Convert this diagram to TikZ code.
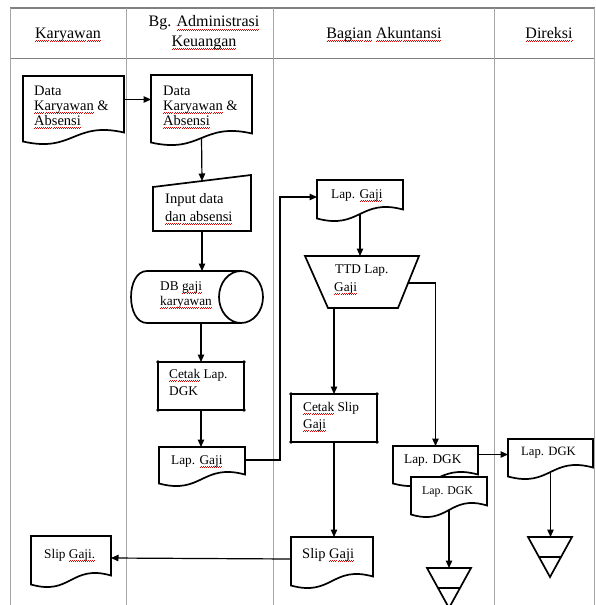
\documentclass[tikz,border=0pt]{standalone}
\usepackage{fontspec}
\setmainfont{Liberation Serif}
\usetikzlibrary{arrows.meta,fit,calc}
\newcommand\wu[1]{\setbox0\hbox{#1}\leavevmode\rlap{\raisebox{-3pt}{\hbox to \wd0{\color{red!85!black}\xleaders\hbox{\rule[-0.3pt]{1pt}{0.6pt}\rule[0.7pt]{1pt}{0.6pt}}\hfil}}}\box0\relax}
\tikzset{
  tbl/.style={draw=gray!70, line width=1pt},
  hdr/.style={draw=gray, line width=1.1pt},
  shp/.style={draw=black, line width=1.7pt, line join=miter},
  arr/.style={draw=black, line width=1.2pt, -{Triangle[length=7.5pt,width=6.5pt]}},
  ln/.style={draw=black, line width=1.1pt},
  box/.style={inner sep=0pt, outer sep=0pt, draw=none},
  lbl/.style={inner sep=0pt, anchor=base west, font=\fontsize{13.3}{15}\selectfont},
  big/.style={font=\fontsize{14.5}{16}\selectfont},
  sml/.style={font=\fontsize{11.8}{14}\selectfont},
  mid/.style={font=\fontsize{12.7}{14}\selectfont},
  head/.style={inner sep=0pt, anchor=base, font=\fontsize{16}{18}\selectfont},
}
\newcommand\docu[5]{%
  \node[box, fit={(#2,#3) (#4,#5)}] (#1) {};
  \draw[shp, fill=white] ([yshift=-4.5pt]#1.south west) -- (#1.north west) -- (#1.north east) -- ([yshift=4.5pt]#1.south east)
     .. controls ([yshift=16pt]#1.south) and ([yshift=-16pt]#1.south) .. ([yshift=-4.5pt]#1.south west) -- cycle;}
\newcommand\procbox[5]{%
  \node[box, fit={(#2,#3) (#4,#5)}] (#1) {};
  \draw[shp, line cap=square] (#1.north west) rectangle (#1.south east);
  \foreach \a in {north west,north east,south west,south east} \fill (#1.\a) circle (1.8pt);}
\newcommand\offl[5]{%
  \node[box, fit={(#2,#3) (#4,#5)}] (#1) {};
  \draw[shp] (#1.north west) -- (#1.north east) -- (#1.south) -- cycle;
  \draw[ln] ($(#1.north west)!0.5!(#1.south)$) -- ($(#1.north east)!0.5!(#1.south)$);}
\begin{document}
\begin{tikzpicture}[x=1pt,y=-1pt]
\useasboundingbox (0,0) rectangle (596,605);
% table
\draw[hdr] (10,8) -- (594.5,8);
\draw[hdr] (10,58.5) -- (594.5,58.5);
\foreach \xx in {10,126,273,494,594.5} \draw[tbl] (\xx,8) -- (\xx,605);
% headers
\node[head] (h1) at (68,38) {\wu{Karyawan}};
\node[head] (h2a) at (204,27) {Bg. \wu{Administrasi}};
\node[head] (h2b) at (204,46) {\wu{Keuangan}};
\node[head] (h3) at (384,38) {\wu{Bagian} \wu{Akuntansi}};
\node[head] (h4) at (549,38) {\wu{Direksi}};
% shapes
\docu{d1}{23}{76}{124}{137}
\docu{d2}{151}{75}{252}{138}
\node[box, fit={(153,175) (251,231)}] (in) {};
\draw[shp] (in.south west) -- ([yshift=-12pt]in.north west) -- (in.north east) -- (in.south east) -- cycle;
\node[box, fit={(131,271) (263,323)}] (db) {};
\draw[shp] (241,271) -- (147,271) .. controls (125.7,271) and (125.7,323) .. (147,323) -- (241,323);
\draw[shp] (241,297) ellipse [x radius=22pt, y radius=26pt];
\procbox{cl}{158}{362}{244}{410}
\docu{lg1}{159}{447}{245}{479}
\docu{lg2}{317}{180}{403}{214}
\node[box, fit={(305,256) (419,308)}] (ttd) {};
\draw[shp] (ttd.north west) -- (ttd.north east) -- ([xshift=-21pt]ttd.south east) -- ([xshift=23pt]ttd.south west) -- cycle;
\procbox{cs}{291}{394}{377}{442}
\docu{ld1}{393}{446}{478}{479}
\docu{ld2}{411}{477}{487}{510}
\docu{dir}{508}{439}{593}{472}
\docu{sg1}{31}{536}{111}{580}
\docu{sg2}{291}{537}{373}{581}
\offl{tr1}{427}{568}{471}{608}
\offl{tr2}{528}{537}{572}{577}
% texts
\node[lbl,big] (t1a) at (34,95) {Data};
\node[lbl,big] (t1b) at (34,110) {\wu{Karyawan} \&};
\node[lbl,big] (t1c) at (34,125) {\wu{Absensi}};
\node[lbl,big] (t2a) at (163,95) {Data};
\node[lbl,big] (t2b) at (163,110) {\wu{Karyawan} \&};
\node[lbl,big] (t2c) at (163,125) {\wu{Absensi}};
\node[lbl,big] (t3a) at (165,203) {Input data};
\node[lbl,big] (t3b) at (165,221) {\wu{dan absensi}};
\node[lbl] (t4a) at (160,290) {DB \wu{gaji}};
\node[lbl] (t4b) at (160,305) {\wu{karyawan}};
\node[lbl] (t5a) at (169,378) {\wu{Cetak} Lap.};
\node[lbl] (t5b) at (169,395) {DGK};
\node[lbl] (t6) at (171,464) {Lap. \wu{Gaji}};
\node[lbl] (t7) at (331,198) {Lap. \wu{Gaji}};
\node[lbl] (t8a) at (335,273) {TTD Lap.};
\node[lbl] (t8b) at (334,291) {\wu{Gaji}};
\node[lbl] (t9a) at (303,411) {\wu{Cetak} Slip};
\node[lbl] (t9b) at (303,428) {\wu{Gaji}};
\node[lbl] (t10) at (404,463) {Lap. DGK};
\node[lbl,sml] (t11) at (422,494) {Lap. DGK};
\node[lbl,mid] (t12) at (521,455) {Lap. DGK};
\node[lbl] (t13) at (44,558) {Slip \wu{Gaji.}};
\node[lbl,big] (t14) at (302,558) {Slip \wu{Gaji}};
% connectors
\coordinate (a0) at ([yshift=7pt]d1.east);
\draw[arr] (a0) -- (a0 -| d2.west);
\draw[arr] (d2.south) -- ([yshift=-6pt]in.north);
\draw[arr] (in.south) -- (in.south |- db.north);
\draw[arr] (cl.north |- db.south) -- (cl.north);
\draw[arr] (cl.south) -- (cl.south |- lg1.north);
\coordinate (c1) at (280,300);
\coordinate (a1) at ([yshift=3pt]lg1.east);
\draw[arr] (a1) -| (c1) |- (lg2.west);
\draw[arr] (lg2.south) -- (lg2.south |- ttd.north);
\draw[arr] (cs.north |- ttd.south) -- (cs.north);
\coordinate (ttdr) at (408,283);
\draw[arr, line width=1.1pt] (ttdr) -| (ld1.north);
\draw[arr] (cs.south) -- (cs.south |- sg2.north);
\draw[arr] (sg2.west) -- (sg1.east);
\coordinate (a2) at ([yshift=8pt]ld1.east);
\draw[arr] (a2) -- (a2 -| dir.west);
\draw[arr] (ld2.south) -- (ld2.south |- tr1.north);
\draw[arr] (dir.south) -- (dir.south |- tr2.north);
\end{tikzpicture}
\end{document}
